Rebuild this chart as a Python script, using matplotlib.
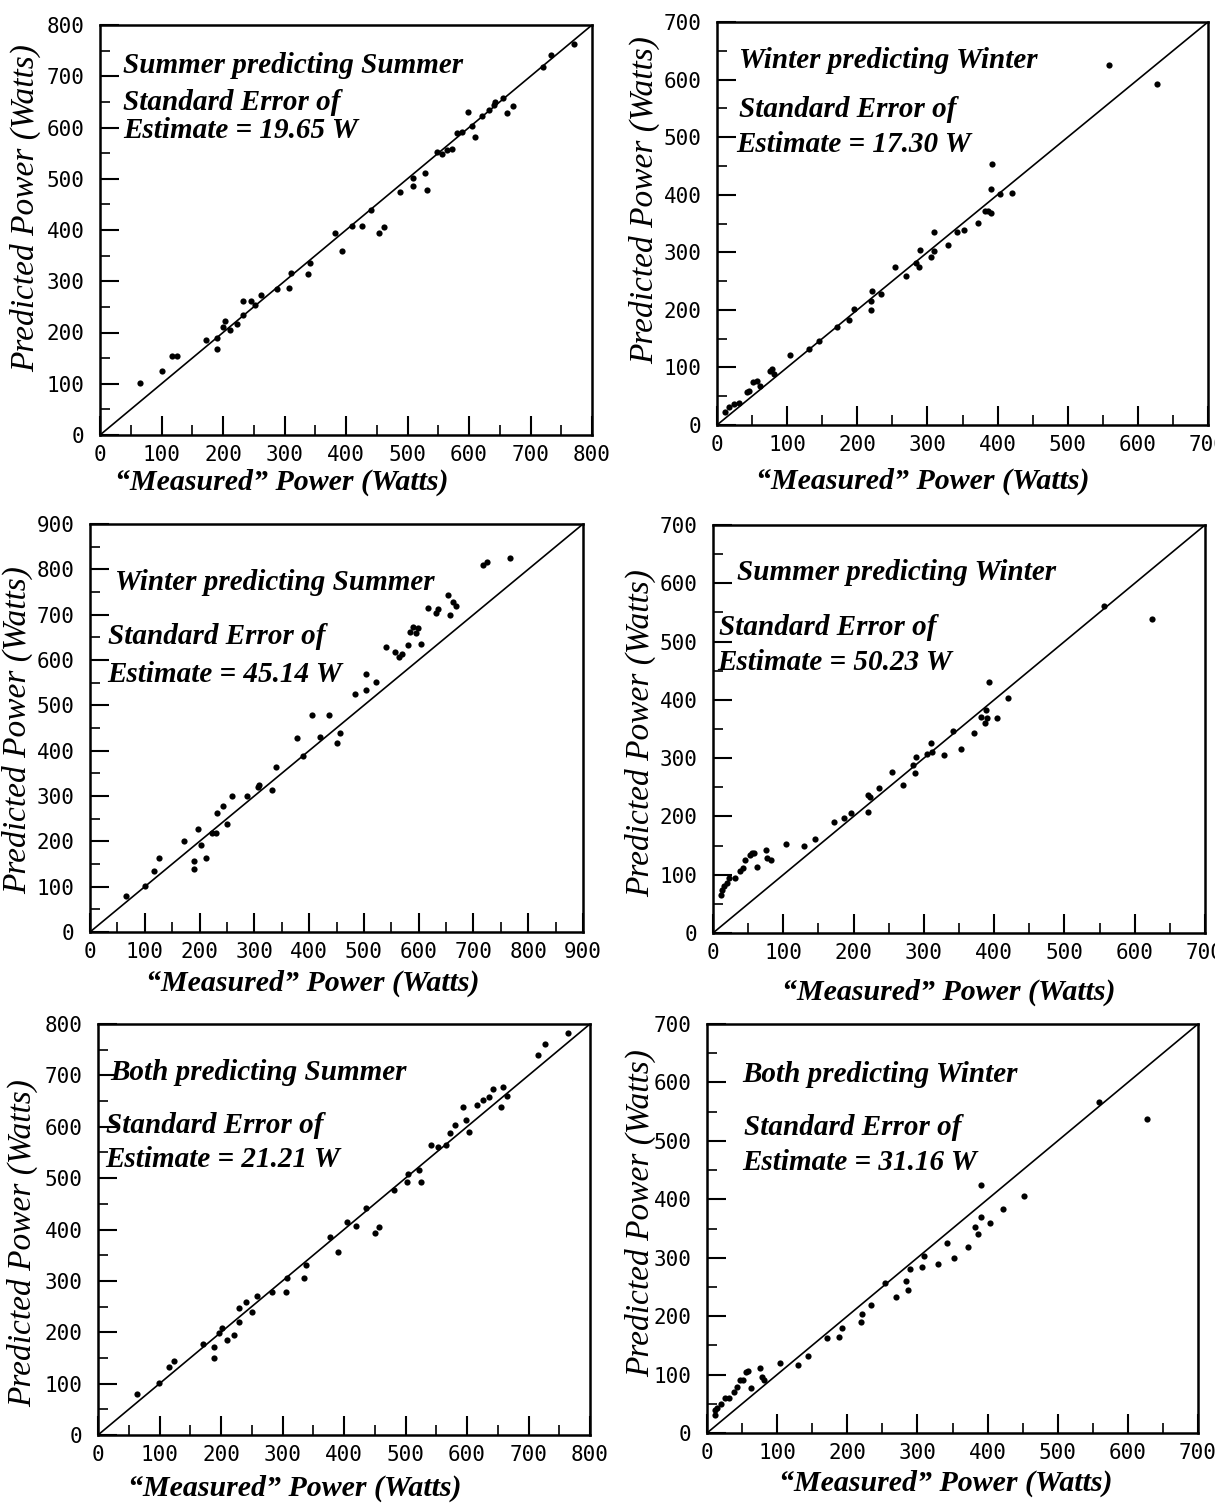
import numpy as np
import matplotlib.pyplot as plt

# values (Watts)
ss_meas = [65, 100, 117, 126, 172, 190, 191, 200, 203, 212, 222, 232, 233, 246, 252, 261,
           287, 308, 311, 338, 342, 382, 394, 409, 426, 441, 454, 461, 488, 509, 509, 528,
           532, 548, 556, 565, 572, 580, 588, 598, 605, 610, 621, 632, 640, 643, 656, 662,
           671, 721, 733, 770]
ss_pred = [101, 124, 155, 155, 185, 168, 190, 211, 223, 204, 217, 234, 262, 262, 254, 273,
           284, 286, 317, 314, 335, 395, 359, 408, 408, 439, 395, 406, 475, 486, 501, 511,
           479, 553, 548, 556, 559, 589, 592, 630, 602, 581, 622, 634, 644, 650, 657, 628,
           641, 719, 741, 762]

ww_meas = [12, 17, 24, 31, 43, 45, 52, 57, 62, 76, 78, 81, 104, 131, 145, 171, 188, 195,
           219, 219, 221, 234, 254, 270, 283, 288, 290, 305, 310, 310, 329, 342, 352, 372,
           382, 386, 391, 390, 392, 403, 421, 559, 628]
ww_pred = [22, 31, 36, 39, 57, 59, 74, 77, 68, 94, 98, 88, 122, 132, 146, 171, 182, 202,
           199, 216, 233, 227, 275, 258, 282, 275, 304, 292, 302, 335, 313, 335, 339, 351,
           371, 372, 369, 410, 453, 401, 403, 625, 593]

ws_meas = [65, 100, 117, 126, 171, 189, 189, 198, 202, 211, 222, 230, 231, 242, 251, 260,
           287, 306, 309, 333, 339, 377, 389, 405, 420, 437, 450, 456, 483, 503, 503, 523,
           541, 557, 564, 569, 581, 585, 590, 595, 599, 605, 617, 631, 635, 654, 657, 662,
           668, 718, 725, 766]
ws_pred = [79, 101, 134, 164, 201, 157, 138, 227, 191, 164, 219, 219, 263, 277, 239, 300,
           299, 319, 324, 314, 364, 428, 389, 478, 430, 478, 416, 439, 524, 534, 570, 552,
           629, 618, 607, 614, 633, 662, 672, 660, 670, 635, 714, 703, 712, 743, 699, 728,
           719, 809, 817, 826]

sw_meas = [11, 13, 15, 20, 23, 31, 39, 43, 46, 52, 55, 59, 63, 75, 77, 82, 104, 130, 145,
           172, 187, 196, 221, 221, 224, 236, 254, 271, 284, 287, 289, 304, 310, 311, 329,
           342, 353, 372, 382, 387, 388, 390, 392, 404, 420, 556, 625]
sw_pred = [66, 74, 80, 86, 94, 94, 106, 111, 126, 133, 138, 138, 113, 142, 129, 126, 153,
           149, 161, 190, 197, 206, 236, 207, 233, 249, 277, 254, 289, 274, 302, 307, 326,
           310, 306, 347, 315, 343, 371, 361, 382, 369, 431, 369, 403, 561, 538]

bs_meas = [64, 99, 115, 123, 171, 188, 188, 197, 201, 209, 221, 229, 229, 241, 251, 258,
           283, 305, 307, 335, 339, 377, 391, 405, 420, 436, 450, 457, 482, 503, 504, 522,
           526, 541, 553, 566, 572, 580, 594, 599, 604, 616, 626, 636, 643, 656, 659, 665,
           716, 727, 765]
bs_pred = [80, 101, 133, 145, 178, 171, 149, 198, 209, 184, 195, 219, 248, 258, 240, 271,
           279, 279, 306, 306, 331, 386, 356, 414, 406, 441, 393, 404, 477, 492, 509, 516,
           492, 565, 561, 565, 587, 603, 638, 613, 589, 642, 653, 657, 673, 639, 677, 659,
           740, 761, 783]

bw_meas = [11, 12, 14, 20, 26, 31, 38, 43, 47, 52, 55, 58, 63, 75, 78, 81, 104, 130, 144,
           171, 188, 193, 220, 221, 234, 254, 270, 284, 287, 289, 307, 310, 329, 342, 352,
           372, 382, 386, 390, 391, 403, 422, 452, 559, 627]
bw_pred = [30, 39, 42, 50, 60, 60, 70, 78, 91, 90, 104, 106, 77, 112, 96, 91, 120, 116,
           132, 162, 164, 179, 190, 204, 219, 256, 232, 261, 245, 281, 284, 303, 289, 325,
           299, 319, 353, 340, 370, 424, 359, 383, 406, 566, 538]

panels = [
    # x, y, axis max, rect (px: left, top, right, bottom), text lines, text pos,
    # xlabel pos, ylabel pos (axes fractions)
    (ss_meas, ss_pred, 800, (100, 25, 592, 435),
     ["Summer predicting Summer", "Standard Error of", "Estimate = 19.65 W"],
     [(0.047, 0.882), (0.047, 0.793), (0.047, 0.724)], (0.37, -0.115), (-0.152, 0.554)),
    (ww_meas, ww_pred, 700, (717, 22, 1208, 425),
     ["Winter predicting Winter", "Standard Error of", "Estimate = 17.30 W"],
     [(0.044, 0.885), (0.044, 0.765), (0.040, 0.678)], (0.42, -0.139), (-0.147, 0.558)),
    (ws_meas, ws_pred, 900, (90, 524, 583, 932),
     ["Winter predicting Summer", "Standard Error of", "Estimate = 45.14 W"],
     [(0.051, 0.838), (0.037, 0.707), (0.034, 0.613)], (0.452, -0.125), (-0.146, 0.495)),
    (sw_meas, sw_pred, 700, (713, 525, 1205, 933),
     ["Summer predicting Winter", "Standard Error of", "Estimate = 50.23 W"],
     [(0.049, 0.865), (0.012, 0.731), (0.008, 0.645)], (0.48, -0.145), (-0.148, 0.49)),
    (bs_meas, bs_pred, 800, (98, 1024, 590, 1435),
     ["Both predicting Summer", "Standard Error of", "Estimate = 21.21 W"],
     [(0.025, 0.864), (0.017, 0.734), (0.014, 0.653)], (0.40, -0.129), (-0.154, 0.467)),
    (bw_meas, bw_pred, 700, (707, 1024, 1198, 1433),
     ["Both predicting Winter", "Standard Error of", "Estimate = 31.16 W"],
     [(0.071, 0.859), (0.075, 0.729), (0.071, 0.643)], (0.487, -0.122), (-0.136, 0.538)),
]

W, H = 1215, 1505
fig = plt.figure(figsize=(W / 100, H / 100), dpi=100)

serif = 'Liberation Serif'
mono = 'DejaVu Sans Mono'

for meas, pred, vmax, (l, t, r, b), lines, tpos, xlab, ylab in panels:
    ax = fig.add_axes([l / W, (H - b) / H, (r - l) / W, (b - t) / H])
    ax.plot([0, vmax], [0, vmax], color='black', linewidth=1.2)
    ax.scatter(meas, pred, s=20, color='black', zorder=3, linewidths=0)
    ax.set_xlim(0, vmax)
    ax.set_ylim(0, vmax)

    ax.set_xticks(np.arange(0, vmax + 1, 100))
    ax.set_yticks(np.arange(0, vmax + 1, 100))
    ax.set_xticks(np.arange(50, vmax, 100), minor=True)
    ax.set_yticks(np.arange(50, vmax, 100), minor=True)
    ax.tick_params(which='major', direction='in', length=14, width=1.5)
    ax.tick_params(which='minor', direction='in', length=7, width=1.2)
    ax.tick_params(axis='x', which='major', pad=7)
    ax.tick_params(axis='y', which='major', pad=11)
    ax.tick_params(top=False, right=False)
    for lab in ax.get_xticklabels() + ax.get_yticklabels():
        lab.set_fontfamily(mono)
        lab.set_fontsize(15)
    for sp in ax.spines.values():
        sp.set_linewidth(1.8)

    for txt, (fx, fy) in zip(lines, tpos):
        ax.text(fx, fy, txt, transform=ax.transAxes, fontsize=21, family=serif,
                style='italic', weight='bold', va='baseline', ha='left')

    ax.text(xlab[0], xlab[1], '\u201cMeasured\u201d Power (Watts)', transform=ax.transAxes,
            fontsize=21.5, family=serif, style='italic', weight='bold',
            ha='center', va='center')
    ax.text(ylab[0], ylab[1], 'Predicted Power (Watts)', transform=ax.transAxes,
            fontsize=24, family=serif, style='italic', rotation=90,
            ha='center', va='center')

fig.savefig('out.png', dpi=100)
